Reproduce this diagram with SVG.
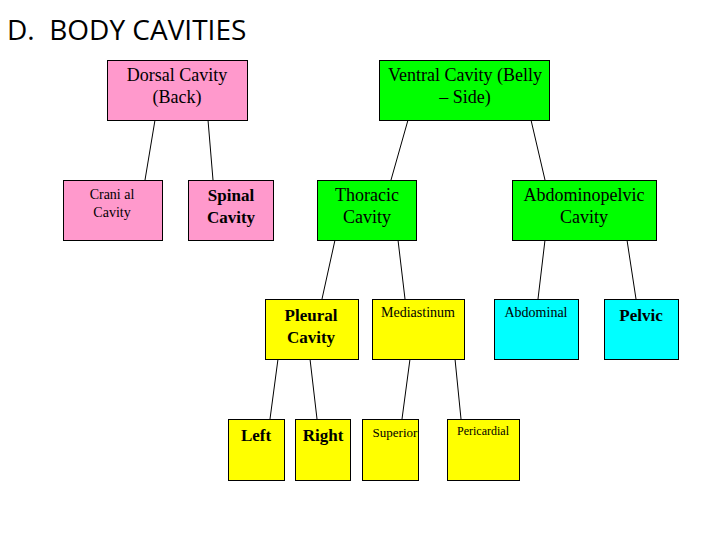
<svg xmlns="http://www.w3.org/2000/svg" width="720" height="540" viewBox="0 0 720 540">
<style>
.box{stroke:#000;stroke-width:1}
.pink{fill:#FF99CC}.green{fill:#00FF00}.yellow{fill:#FFFF00}.cyan{fill:#00FFFF}
text{font-family:"Liberation Serif","Times New Roman",serif;fill:#000;text-anchor:middle}
.m{font-size:18px}.s{font-size:14px}.b{font-size:17px;font-weight:bold}
.title{font-family:"Open Sans","Liberation Sans",sans-serif;font-size:28px;text-anchor:start;white-space:pre}
#connectors line{stroke:#000;stroke-width:1}
</style>
<rect width="720" height="540" fill="#fff"/>
<text class="title" x="7" y="40" xml:space="preserve">D.  BODY CAVITIES</text>
<g id="connectors">
<line x1="155" y1="120" x2="145" y2="180"/>
<line x1="208" y1="120" x2="213" y2="180"/>
<line x1="408" y1="120" x2="391" y2="180"/>
<line x1="531" y1="120" x2="545" y2="180"/>
<line x1="335" y1="240" x2="322" y2="299"/>
<line x1="398" y1="240" x2="405" y2="299"/>
<line x1="545" y1="240" x2="538" y2="299"/>
<line x1="627" y1="240" x2="636" y2="299"/>
<line x1="278" y1="359" x2="270" y2="419"/>
<line x1="310" y1="359" x2="317" y2="419"/>
<line x1="410" y1="359" x2="402" y2="419"/>
<line x1="455" y1="359" x2="461" y2="419"/>
</g>
<g id="dorsal"><rect class="box pink" x="107.5" y="60.5" width="140" height="60"/><text class="m" x="177" y="81">Dorsal Cavity</text><text class="m" x="177" y="103">(Back)</text></g>
<g id="ventral"><rect class="box green" x="379.5" y="60.5" width="170" height="60"/><text class="m" x="465" y="81">Ventral Cavity (Belly</text><text class="m" x="465" y="103">– Side)</text></g>
<g id="cranial"><rect class="box pink" x="63.5" y="180.5" width="99" height="60"/><text class="s" x="112" y="199">Crani al</text><text class="s" x="112" y="217">Cavity</text></g>
<g id="spinal"><rect class="box pink" x="188.5" y="180.5" width="85" height="60"/><text class="b" x="231" y="201">Spinal</text><text class="b" x="231" y="223">Cavity</text></g>
<g id="thoracic"><rect class="box green" x="317.5" y="180.5" width="99" height="60"/><text class="m" x="367" y="201">Thoracic</text><text class="m" x="367" y="223">Cavity</text></g>
<g id="abdominopelvic"><rect class="box green" x="512.5" y="180.5" width="144" height="60"/><text class="m" x="584" y="201">Abdominopelvic</text><text class="m" x="584" y="223">Cavity</text></g>
<g id="pleural"><rect class="box yellow" x="265.5" y="299.5" width="93" height="60"/><text class="b" x="311" y="321">Pleural</text><text class="b" x="311" y="343">Cavity</text></g>
<g id="mediastinum"><rect class="box yellow" x="372.5" y="299.5" width="92" height="60"/><text class="s" x="418" y="317">Mediastinum</text></g>
<g id="abdominal"><rect class="box cyan" x="494.5" y="299.5" width="84" height="60"/><text class="s" x="536" y="317">Abdominal</text></g>
<g id="pelvic"><rect class="box cyan" x="604.5" y="299.5" width="74" height="60"/><text class="b" x="641" y="321">Pelvic</text></g>
<g id="left"><rect class="box yellow" x="228.5" y="419.5" width="56" height="61"/><text class="b" x="256" y="441">Left</text></g>
<g id="right"><rect class="box yellow" x="295.5" y="419.5" width="55" height="61"/><text class="b" x="323" y="441">Right</text></g>
<g id="superior"><rect class="box yellow" x="362.5" y="419.5" width="56" height="61"/><text x="395" y="437" style="font-size:13px">Superior</text></g>
<g id="pericardial"><rect class="box yellow" x="447.5" y="419.5" width="72" height="61"/><text x="483" y="435" style="font-size:12px">Pericardial</text></g>
</svg>
